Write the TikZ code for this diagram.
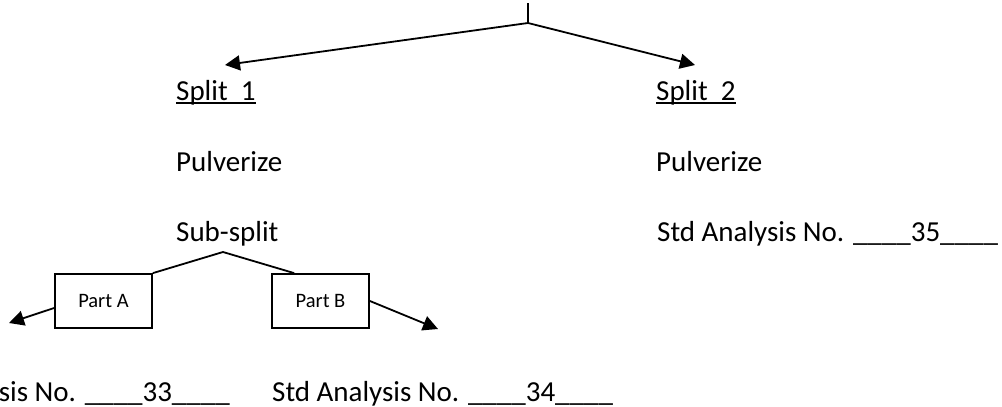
\documentclass[tikz,border=0pt]{standalone}
\usepackage{fontspec}
\setmainfont{Carlito}
\usetikzlibrary{arrows.meta,calc}
\tikzset{
  txt/.style={inner sep=0pt, anchor=base west, font=\fontsize{29pt}{34pt}\selectfont},
  partbox/.style={draw, line width=1.8pt, minimum width=97pt, minimum height=54pt, inner sep=0pt, font=\fontsize{20.5pt}{24pt}\selectfont},
  conn/.style={line width=1.8pt},
  arr/.style={line width=1.8pt, -{Triangle[length=15pt,width=15pt]}},
  uline/.style={line width=2pt},
}
\begin{document}
\begin{tikzpicture}[x=1pt,y=-1pt]
\useasboundingbox (0,0) rectangle (1002,407);
% top fork
\coordinate (top) at (528,3);
\coordinate (fork) at (528,23);
\coordinate (t1) at (225,65);
\coordinate (t2) at (695,65);
\draw[conn] (top) -- (fork);
\draw[arr] (fork) -- (t1);
\draw[arr] (fork) -- (t2);
% left column
\node[txt] (s1) at (176,100) {Split~~1};
\draw[uline] ([yshift=-3pt]s1.base west) -- ([yshift=-3pt]s1.base east);
\node[txt] (p1) at (176,171) {Pulverize};
\node[txt] (ss) at (176,241) {Sub-split};
% right column
\node[txt] (s2) at (656,100) {Split~~2};
\draw[uline] ([yshift=-3pt]s2.base west) -- ([yshift=-3pt]s2.base east);
\node[txt] (p2) at (656,171) {Pulverize};
\node[txt] (a35) at (657,241) {Std Analysis No. \_\_\_\_35\_\_\_\_};
% sub-split parts
\node[partbox] (pa) at (103.5,301) {Part A};
\node[partbox] (pb) at (320.5,301) {Part B};
\coordinate (sfork) at (223,252);
\draw[conn] (pa.north east) -- (sfork) -- ($(pb.north west)+(23,0)$);
\coordinate (ta) at (9,323);
\coordinate (tb) at (438,329);
\draw[arr] ([yshift=-7pt]pa.west) -- (ta);
\draw[arr] (pb.east) -- (tb);
% bottom analyses
\node[txt, anchor=base east] (a33) at (230,401) {Std Analysis No. \_\_\_\_33\_\_\_\_};
\node[txt] (a34) at (272,401) {Std Analysis No. \_\_\_\_34\_\_\_\_};
\end{tikzpicture}
\end{document}
